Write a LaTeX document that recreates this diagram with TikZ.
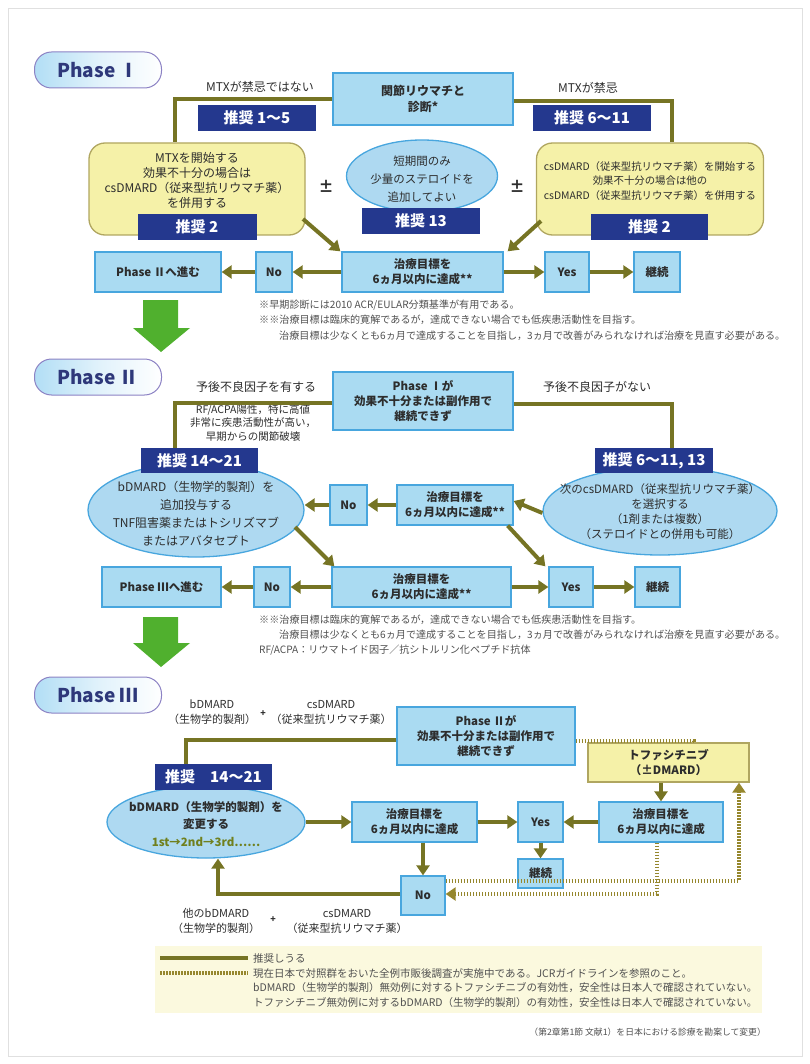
\documentclass[tikz,border=0pt]{standalone}
\usepackage{fontspec}
\setmainfont{Noto Sans CJK JP}
\usepackage{tikz}
\usetikzlibrary{arrows.meta,shapes.geometric,positioning}

\definecolor{linecol}{RGB}{118,116,36}
\definecolor{dotcol}{RGB}{150,135,45}
\definecolor{boxfill}{RGB}{170,219,242}
\definecolor{boxline}{RGB}{72,166,222}
\definecolor{navy}{RGB}{36,56,142}
\definecolor{ylwfill}{RGB}{245,241,168}
\definecolor{ylwline}{RGB}{176,166,96}
\definecolor{ellfill}{RGB}{174,217,241}
\definecolor{pillline}{RGB}{140,130,196}
\definecolor{pillfill}{RGB}{178,222,245}
\definecolor{pilltext}{RGB}{46,56,122}
\definecolor{arrowgreen}{RGB}{80,176,46}
\definecolor{legendbg}{RGB}{251,249,222}
\definecolor{notetext}{RGB}{80,80,80}
\definecolor{txt}{RGB}{45,45,45}
\definecolor{stepgreen}{RGB}{112,128,30}

\newcommand\bxfont{\fontsize{11.5}{15}\selectfont\bfseries}
\newcommand\recfont{\fontsize{15}{17}\selectfont\bfseries}
\newcommand\pillfont{\fontsize{19}{22}\selectfont\bfseries}
\newcommand\lblfont{\fontsize{12}{15}\selectfont}
\newcommand\notefont{\fontsize{10.1}{12}\selectfont}

\tikzset{
  sz/.style 2 args={minimum width=#1pt,minimum height=#2pt},
  bluebox/.style={rectangle,draw=boxline,fill=boxfill,line width=1.3pt,
    align=center,text=txt,font=\bxfont,inner sep=0pt},
  ylwbox/.style={rectangle,rounded corners=16pt,draw=ylwline,fill=ylwfill,line width=1.3pt},
  ellnode/.style={ellipse,draw=boxline,fill=ellfill,line width=1.3pt,inner sep=0pt},
  rec/.style={rectangle,fill=navy,text=white,font=\recfont,inner sep=0pt},
  pill/.style={rectangle,rounded corners=17pt,draw=pillline,line width=1pt,
    left color=pillfill,right color=white,middle color=white!60!pillfill,
    sz={127}{36},font=\pillfont,text=pilltext},
  txtnode/.style={align=center,text=txt,font=\lblfont,inner sep=0pt},
  pm/.style={text=txt,font=\fontsize{15}{15}\selectfont\bfseries,inner sep=0pt},
  fnote/.style={anchor=west,text=notetext,font=\notefont,inner sep=0pt},
  link/.style={draw=linecol,line width=4pt},
  arr/.style={link,-{Triangle[length=10pt,width=13pt]}},
  dotlink/.style={draw=dotcol,line width=4pt,dash pattern=on 1.6pt off 1.4pt},
  dotarr/.style={dotlink,-{Triangle[length=10pt,width=13pt]}}
}

\begin{document}
\begin{tikzpicture}[x=1pt,y=-1pt]
  \useasboundingbox (0,0) rectangle (810,1064);
  \draw[black!12,line width=0.8pt] (8,8) rectangle (802,1056);

  % Phase I
  \node[pill] (ph1) at (98,70) {Phase Ⅰ};
  \node[bluebox,sz={180}{52},font=\fontsize{12}{16}\selectfont\bfseries] (diag) at (423,99) {関節リウマチと\\診断*};
  \node[txtnode] (nomtx) at (260,87) {MTXが禁忌ではない};
  \node[txtnode] (mtx) at (588,88) {MTXが禁忌};
  \node[rec,sz={118}{26}] (r15) at (257,118) {推奨\ 1～5};
  \node[rec,sz={118}{26}] (r611) at (592,118) {推奨\ 6～11};
  \node[ylwbox,sz={216}{92}] (mtxbox) at (197,189) {};
  \node[txtnode] (mtxtxt) at (197,180) {MTXを開始する\\効果不十分の場合は\\csDMARD（従来型抗リウマチ薬）\\を併用する};
  \node[rec,sz={119}{26}] (r2a) at (197,227) {推奨\ 2};
  \node[ellnode,sz={151}{72}] (ster) at (422,176) {};
  \node[txtnode,font=\fontsize{11.5}{18}\selectfont] (stertxt) at (422,179) {短期間のみ\\少量のステロイドを\\追加してよい};
  \node[rec,sz={118}{26}] (r13) at (421,221) {推奨\ 13};
  \node[pm] (pmA) at (326,186) {±};
  \node[pm] (pmB) at (517,186) {±};
  \node[ylwbox,sz={227}{92}] (csbox) at (650,189) {};
  \node[txtnode,font=\fontsize{10.4}{14.5}\selectfont] (cstxt) at (650,181) {csDMARD（従来型抗リウマチ薬）を開始する\\効果不十分の場合は他の\\csDMARD（従来型抗リウマチ薬）を併用する};
  \node[rec,sz={117}{26}] (r2b) at (649.5,227) {推奨\ 2};
  \node[bluebox,sz={126}{40}] (go2) at (158,272) {Phase Ⅱへ進む};
  \node[bluebox,sz={36}{40}] (no1) at (274,272) {No};
  \node[bluebox,sz={161}{40}] (goal1) at (422.5,272) {治療目標を\\6ヵ月以内に達成**};
  \node[bluebox,sz={44}{40}] (yes1) at (567,272) {Yes};
  \node[bluebox,sz={46}{40}] (cont1) at (657,272) {継続};

  \draw[link] (diag.west) -| ([xshift=-22pt]mtxbox.north);
  \draw[link] ([yshift=-2pt]diag.east) -| ([xshift=22pt]csbox.north);
  \draw[arr] (303,219) -- ([xshift=-1pt]goal1.north west);
  \draw[arr] (541,221) -- ([xshift=4pt]goal1.north east);
  \draw[arr] (goal1) -- (no1);
  \draw[arr] (no1) -- (go2);
  \draw[arr] (goal1) -- (yes1);
  \draw[arr] (yes1) -- (cont1);

  \node[fnote] (fn1) at (259,305) {※早期診断には2010 ACR/EULAR分類基準が有用である。};
  \node[fnote] (fn2) at (259,320) {※※治療目標は臨床的寛解であるが，達成できない場合でも低疾患活動性を目指す。};
  \node[fnote] (fn3) at (279,336) {治療目標は少なくとも6ヵ月で達成することを目指し，3ヵ月で改善がみられなければ治療を見直す必要がある。};

  \fill[arrowgreen] (143,300) -- (178,300) -- (178,328) -- (190,328) -- (161,352) -- (133,328) -- (143,328) -- cycle;

  % Phase II
  \node[pill] (ph2) at (98,377) {Phase Ⅱ};
  \node[bluebox,sz={180}{58}] (fail1) at (423,401) {Phase Ⅰが\\効果不十分または副作用で\\継続できず};
  \node[txtnode] (poor) at (256,387) {予後不良因子を有する};
  \node[txtnode,font=\fontsize{10.5}{13.5}\selectfont] (poorwhy) at (253,423) {RF/ACPA陽性，特に高値\\非常に疾患活動性が高い，\\早期からの関節破壊};
  \node[txtnode] (nopoor) at (597,387) {予後不良因子がない};
  \node[ellnode,sz={216}{94}] (bioA) at (196,510) {};
  \node[txtnode,font=\fontsize{12}{18}\selectfont] (bioAtxt) at (196,514) {bDMARD（生物学的製剤）を\\追加投与する\\TNF阻害薬またはトシリズマブ\\またはアバタセプト};
  \node[rec,sz={117}{25}] (r1421) at (199.5,460.5) {推奨\ 14～21};
  \node[ellnode,sz={234}{88}] (csB) at (660,511) {};
  \node[txtnode,font=\fontsize{11.5}{15}\selectfont] (csBtxt) at (660,512) {次のcsDMARD（従来型抗リウマチ薬）\\を選択する\\（1剤または複数）\\（ステロイドとの併用も可能）};
  \node[rec,sz={118}{25}] (r61113) at (654,460.5) {推奨\ 6～11, 13};
  \node[bluebox,sz={116}{40}] (goal2) at (455,505) {治療目標を\\6ヵ月以内に達成**};
  \node[bluebox,sz={37}{40}] (no2) at (348.5,505) {No};
  \node[bluebox,sz={119}{40}] (go3) at (161.5,587) {Phase Ⅲへ進む};
  \node[bluebox,sz={36}{40}] (no3) at (272,587) {No};
  \node[bluebox,sz={179}{40}] (goal3) at (421.5,587) {治療目標を\\6ヵ月以内に達成**};
  \node[bluebox,sz={44}{40}] (yes3) at (571,587) {Yes};
  \node[bluebox,sz={45}{40}] (cont3) at (657.5,587) {継続};

  \draw[link] ([yshift=-2pt]fail1.west) -| ([xshift=-24.5pt]r1421.north);
  \draw[link] ([yshift=-3pt]fail1.east) -| ([xshift=18pt]r61113.north);
  \draw[arr] ([yshift=-2pt]csB.west) -- ([yshift=4pt]goal2.east);
  \draw[arr] (goal2) -- (no2);
  \draw[arr] (no2) -- (no2.west -| bioA.east);
  \draw[arr] (295,527) -- ([xshift=3pt]goal3.north west);
  \draw[arr] ([xshift=-6pt]goal2.south east) -- ([xshift=-3pt]yes3.north west);
  \draw[arr] (goal3) -- (no3);
  \draw[arr] (no3) -- (go3);
  \draw[arr] (goal3) -- (yes3);
  \draw[arr] (yes3) -- (cont3);

  \node[fnote] (fn4) at (259,620) {※※治療目標は臨床的寛解であるが，達成できない場合でも低疾患活動性を目指す。};
  \node[fnote] (fn5) at (279,635) {治療目標は少なくとも6ヵ月で達成することを目指し，3ヵ月で改善がみられなければ治療を見直す必要がある。};
  \node[fnote] (fn6) at (259,650) {RF/ACPA：リウマトイド因子／抗シトルリン化ペプチド抗体};

  \fill[arrowgreen] (143,617) -- (178,617) -- (178,643) -- (190,643) -- (161,667) -- (133,643) -- (143,643) -- cycle;

  % Phase III
  \node[pill] (ph3) at (98,695) {Phase Ⅲ};
  \node[bluebox,sz={178}{58}] (fail2) at (486,736) {Phase Ⅱが\\効果不十分または副作用で\\継続できず};
  \node[txtnode,font=\fontsize{11}{15}\selectfont] (bioC) at (212,712) {bDMARD\\（生物学的製剤）};
  \node[txtnode,font=\fontsize{9}{9}\selectfont\bfseries] (plusA) at (263,714) {+};
  \node[txtnode,font=\fontsize{11}{15}\selectfont] (csC) at (331,712) {csDMARD\\（従来型抗リウマチ薬）};
  \node[ellnode,sz={198}{72}] (bioB) at (206,822) {};
  \node[txtnode,font=\fontsize{11.5}{17.5}\selectfont] (bioBtxt) at (206,824) {\textbf{bDMARD（生物学的製剤）を}\\\textbf{変更する}\\\textcolor{stepgreen}{\textbf{1st→2nd→3rd……}}};
  \node[rec,sz={117}{26}] (r1421b) at (213.5,777) {推奨　14～21};
  \node[bluebox,sz={125}{40}] (goal4) at (414.5,822) {治療目標を\\6ヵ月以内に達成};
  \node[bluebox,sz={45}{40}] (yes4) at (540.5,822) {Yes};
  \node[bluebox,sz={45}{29}] (cont4) at (540.5,873.5) {継続};
  \node[bluebox,sz={124}{40}] (goal5) at (661,822) {治療目標を\\6ヵ月以内に達成};
  \node[bluebox,sz={161}{39},draw=ylwline,fill=ylwfill] (tofa) at (668.5,762.5) {トファシチニブ\\（±DMARD）};
  \node[bluebox,sz={44}{39}] (no4) at (423,895.5) {No};
  \node[txtnode,font=\fontsize{11}{15}\selectfont] (bioD) at (216,921) {他のbDMARD\\（生物学的製剤）};
  \node[txtnode,font=\fontsize{9}{9}\selectfont\bfseries] (plusB) at (273,920) {+};
  \node[txtnode,font=\fontsize{11}{15}\selectfont] (csD) at (347,921) {csDMARD\\（従来型抗リウマチ薬）};

  \draw[link] ([yshift=-4pt]fail2.west) -| ([xshift=-27.5pt]r1421b.north);
  \draw[arr] (bioB) -- (goal4);
  \draw[arr] (goal4) -- (yes4);
  \draw[arr] (goal5) -- (yes4);
  \draw[arr] (yes4) -- (cont4);
  \draw[arr] (tofa.south -| goal5.north) -- (goal5.north);
  \draw[arr] (goal4.south -| no4.north) -- (no4.north);
  \draw[arr] ([yshift=2pt]no4.west) -| ([xshift=12pt]bioB.south);
  \draw[dotlink] ([yshift=-5pt]fail2.east) -| ([xshift=25.5pt]tofa.north);
  \draw[dotarr] ([xshift=-4pt]goal5.south) |- ([yshift=1.5pt]no4.east);
  \draw[dotarr] ([yshift=15pt]no4.east) -| ([xshift=70.5pt]tofa.south);

  % legend
  \fill[legendbg] (155,946) rectangle (762,1013);
  \draw[link] (160,958) -- (248,958);
  \draw[dotlink] (160,973) -- (248,973);
  \node[fnote,font=\fontsize{10.5}{12}\selectfont] (lg1) at (253,958) {推奨しうる};
  \node[fnote,font=\fontsize{10.5}{12}\selectfont] (lg2) at (253,973) {現在日本で対照群をおいた全例市販後調査が実施中である。JCRガイドラインを参照のこと。};
  \node[fnote,font=\fontsize{10.5}{12}\selectfont] (lg3) at (253,988) {bDMARD（生物学的製剤）無効例に対するトファシチニブの有効性，安全性は日本人で確認されていない。};
  \node[fnote,font=\fontsize{10.5}{12}\selectfont] (lg4) at (253,1003) {トファシチニブ無効例に対するbDMARD（生物学的製剤）の有効性，安全性は日本人で確認されていない。};
  \node[fnote,anchor=east,font=\fontsize{8.8}{10}\selectfont] (src) at (766,1032) {（第2章第1節 文献1）を日本における診療を勘案して変更）};
\end{tikzpicture}
\end{document}
